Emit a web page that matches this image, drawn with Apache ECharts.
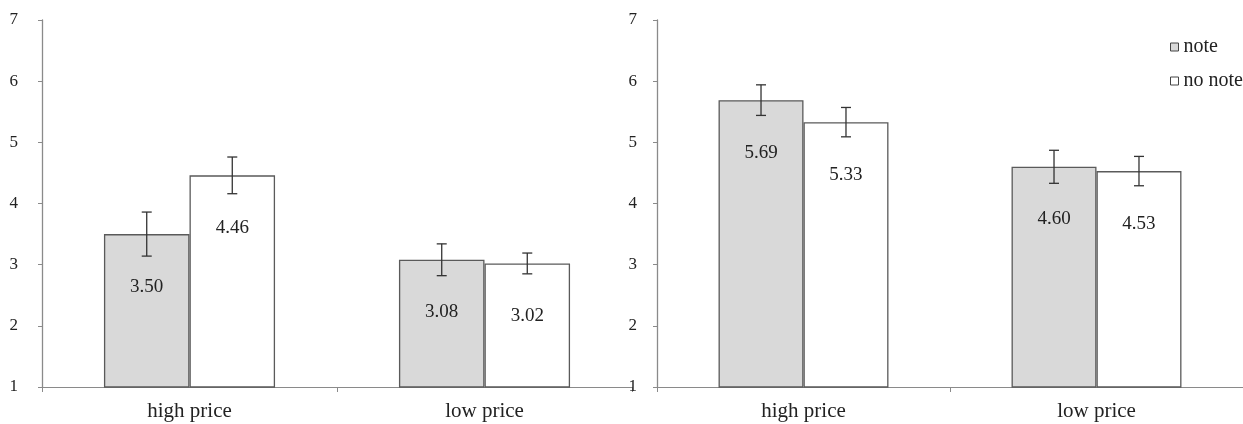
<!DOCTYPE html>
<html><head><meta charset="utf-8">
<script src="https://cdn.jsdelivr.net/npm/echarts@6/dist/echarts.min.js"></script>
<style>html,body{margin:0;padding:0;background:#fff}#c{width:1243px;height:424px}</style>
</head><body><div id="c"></div>
<script>
const categories = ['high price', 'low price'];
const yTicks = [1, 2, 3, 4, 5, 6, 7];
// Left panel
const leftNote = [3.50, 3.08];
const leftNoNote = [4.46, 3.02];
const leftNoteErr = [0.36, 0.26];
const leftNoNoteErr = [0.30, 0.17];
// Right panel
const rightNote = [5.69, 4.60];
const rightNoNote = [5.33, 4.53];
const rightNoteErr = [0.25, 0.27];
const rightNoNoteErr = [0.24, 0.24];

const FONT = '"Liberation Serif", "DejaVu Serif", serif';
const AXIS_COLOR = '#8a8a8a';
const BAR_BORDER = '#5a5a5a';
const GAP = 0.42;

function errSeries(name, vals, errs, gridIdx, side) {
  return {
    type: 'custom', name: name + ' err', xAxisIndex: gridIdx, yAxisIndex: gridIdx,
    silent: true, z: 5,
    data: vals.map((v, i) => [i, v, errs[i]]),
    renderItem: function (params, api) {
      const i = api.value(0), v = api.value(1), e = api.value(2);
      const band = api.size([1, 0])[0];
      const off = side * band * (1 - GAP) / 4;
      const top = api.coord([i, v + e]);
      const bot = api.coord([i, v - e]);
      const x = top[0] + off;
      const cap = 5;
      const st = { stroke: '#333', lineWidth: 1.3 };
      return { type: 'group', children: [
        { type: 'line', shape: { x1: x, y1: top[1], x2: x, y2: bot[1] }, style: st },
        { type: 'line', shape: { x1: x - cap, y1: top[1], x2: x + cap, y2: top[1] }, style: st },
        { type: 'line', shape: { x1: x - cap, y1: bot[1], x2: x + cap, y2: bot[1] }, style: st }
      ]};
    }
  };
}

function barSeries(name, vals, gridIdx, fill) {
  return {
    type: 'bar', name: name, xAxisIndex: gridIdx, yAxisIndex: gridIdx,
    data: vals, barGap: '0%', barCategoryGap: (GAP * 100) + '%',
    itemStyle: { color: fill, borderColor: BAR_BORDER, borderWidth: 1.3 },
    label: { show: true, position: 'insideTop', distance: 43,
      formatter: p => p.value.toFixed(2), fontFamily: FONT, fontSize: 19, color: '#222' }
  };
}

function xAx(gridIdx) {
  return { type: 'category', gridIndex: gridIdx, data: categories,
    axisLine: { lineStyle: { color: AXIS_COLOR, width: 1 } },
    axisTick: { show: true, length: 5, lineStyle: { color: AXIS_COLOR } },
    axisLabel: { fontFamily: FONT, fontSize: 21, color: '#222', margin: 14 } };
}
function yAx(gridIdx, margin) {
  return { type: 'value', gridIndex: gridIdx, min: yTicks[0], max: yTicks[yTicks.length - 1], interval: 1,
    axisLine: { show: true, lineStyle: { color: AXIS_COLOR, width: 1.3 } },
    axisTick: { show: true, length: 4, lineStyle: { color: AXIS_COLOR } },
    splitLine: { show: false },
    axisLabel: { fontFamily: FONT, fontSize: 17, color: '#222', margin: margin } };
}

const chart = echarts.init(document.getElementById('c'), null, { renderer: 'canvas' });
chart.setOption({
  animation: false,
  backgroundColor: '#fff',
  grid: [
    { left: 42, width: 590, top: 20, height: 367 },
    { left: 657, width: 588, top: 20, height: 367 }
  ],
  xAxis: [xAx(0), xAx(1)],
  yAxis: [yAx(0, 24), yAx(1, 20)],
  legend: {
    data: ['note', 'no note'], orient: 'vertical', left: 1165, top: 32,
    icon: 'rect', itemWidth: 8, itemHeight: 8, itemGap: 14,
    itemStyle: { borderColor: '#444', borderWidth: 1 },
    textStyle: { fontFamily: FONT, fontSize: 20, color: '#222' }
  },
  series: [
    barSeries('note', leftNote, 0, '#d9d9d9'),
    barSeries('no note', leftNoNote, 0, '#ffffff'),
    barSeries('note', rightNote, 1, '#d9d9d9'),
    barSeries('no note', rightNoNote, 1, '#ffffff'),
    errSeries('note', leftNote, leftNoteErr, 0, -1),
    errSeries('no note', leftNoNote, leftNoNoteErr, 0, 1),
    errSeries('note', rightNote, rightNoteErr, 1, -1),
    errSeries('no note', rightNoNote, rightNoNoteErr, 1, 1)
  ]
});
</script></body></html>
